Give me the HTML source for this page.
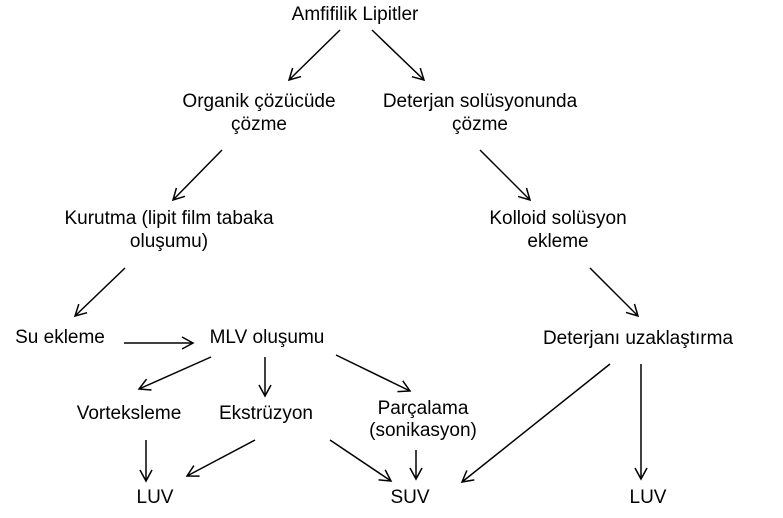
<!DOCTYPE html>
<html><head><meta charset="utf-8"><style>
body{margin:0;background:#fff}
svg{display:block}
text{font-family:"Liberation Sans",Arial,sans-serif;font-size:19px;fill:#000}
line{stroke:#000;stroke-width:1.5}
</style></head><body>
<svg width="783" height="518" viewBox="0 0 783 518">
<defs><marker id="a" markerWidth="14" markerHeight="14" refX="12" refY="7" orient="auto" markerUnits="userSpaceOnUse"><path d="M1,1 L12,7 L1,13" fill="none" stroke="#000" stroke-width="1.5"/></marker></defs>
<g text-anchor="middle">
<text x="355" y="20">Amfifilik Lipitler</text>
<text x="259" y="107">Organik çözücüde</text><text x="259" y="130">çözme</text>
<text x="480" y="107">Deterjan solüsyonunda</text><text x="480" y="130">çözme</text>
<text x="169" y="224">Kurutma (lipit film tabaka</text><text x="169" y="247">oluşumu)</text>
<text x="558" y="224">Kolloid solüsyon</text><text x="558" y="247">ekleme</text>
<text x="60" y="343">Su ekleme</text>
<text x="267" y="343">MLV oluşumu</text>
<text x="638" y="344">Deterjanı uzaklaştırma</text>
<text x="129" y="419">Vorteksleme</text>
<text x="266" y="419">Ekstrüzyon</text>
<text x="423" y="414">Parçalama</text><text x="423" y="436">(sonikasyon)</text>
<text x="155" y="503">LUV</text><text x="410" y="503">SUV</text><text x="648" y="503">LUV</text>
</g>
<g marker-end="url(#a)">
<line x1="340" y1="30" x2="289" y2="80"/>
<line x1="372" y1="30" x2="424" y2="80"/>
<line x1="222" y1="150" x2="173" y2="200"/>
<line x1="480" y1="150" x2="530" y2="200"/>
<line x1="125" y1="268" x2="75" y2="316"/>
<line x1="590" y1="268" x2="638" y2="316"/>
<line x1="124" y1="343" x2="193" y2="343"/>
<line x1="211" y1="357" x2="139" y2="389"/>
<line x1="265" y1="357" x2="265" y2="396"/>
<line x1="336" y1="355" x2="410" y2="391"/>
<line x1="146" y1="440" x2="146" y2="481"/>
<line x1="255" y1="440" x2="187" y2="476"/>
<line x1="330" y1="440" x2="391" y2="481"/>
<line x1="416" y1="450" x2="416" y2="479"/>
<line x1="610" y1="364" x2="462" y2="482"/>
<line x1="641" y1="364" x2="641" y2="479"/>
</g>
</svg>
</body></html>
